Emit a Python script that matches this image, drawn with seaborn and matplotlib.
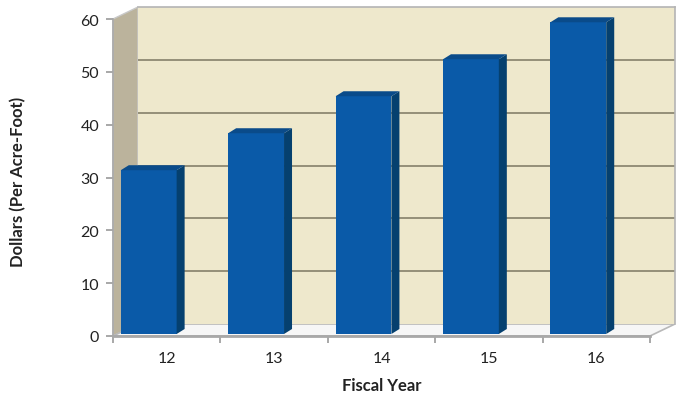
import matplotlib
matplotlib.use("Agg")
import matplotlib.pyplot as plt
from matplotlib.patches import Polygon
import pandas as pd
import seaborn as sns

# Water rate by fiscal year
fiscal_years = ["12", "13", "14", "15", "16"]
rates = [31, 38, 45, 52, 59]
y_ticks = [0, 10, 20, 30, 40, 50, 60]

df = pd.DataFrame({"year": fiscal_years, "rate": rates})

sns.set_style("white")
plt.rcParams["font.family"] = ["Lato", "DejaVu Sans"]

W, H = 685, 402
fig = plt.figure(figsize=(W / 100, H / 100), dpi=100)
fig.patch.set_facecolor("white")


def fx(px):
    return px / W


def fy(py):
    return 1 - py / H


plane_w = 537 / W
plane_h = 317 / H
ymax = 60

# Back wall of the 3-D box
ax_back = fig.add_axes([fx(138), fy(325), plane_w, plane_h])
ax_back.set_facecolor("#eee8cc")
ax_back.set_xlim(-0.5, 4.5)
ax_back.set_ylim(0, ymax)
ax_back.set_yticks(y_ticks[1:-1])
ax_back.set_xticks([])
ax_back.tick_params(left=False, labelleft=False)
ax_back.yaxis.grid(True, color="#8d8872", lw=1.3)
for side in ["left", "bottom"]:
    ax_back.spines[side].set_visible(False)
for side in ["top", "right"]:
    ax_back.spines[side].set_color("#b4b4b4")
    ax_back.spines[side].set_linewidth(1.2)

# Side wall and floor
side_wall = Polygon([(fx(113), fy(337)), (fx(113), fy(20)), (fx(138), fy(8)), (fx(138), fy(325))],
                    closed=True, transform=fig.transFigure, facecolor="#bbb39c",
                    edgecolor="#c8c8c8", lw=1.0, zorder=-1)
floor = Polygon([(fx(113), fy(337)), (fx(650), fy(337)), (fx(675), fy(325)), (fx(138), fy(325))],
                closed=True, transform=fig.transFigure, facecolor="#f6f6f6",
                edgecolor="#b8b8b8", lw=1.2, zorder=-1)
fig.add_artist(side_wall)
fig.add_artist(floor)

# Front plane: axes, ticks and labels
ax = fig.add_axes([fx(113), fy(337), plane_w, plane_h])
ax.set_facecolor("none")
ax.set_xlim(-0.5, 4.5)
ax.set_ylim(0, ymax)
ax.set_yticks(y_ticks)
ax.set_yticklabels([str(v) for v in y_ticks])
ax.set_xticks([i - 0.5 for i in range(len(fiscal_years) + 1)])
ax.set_xticklabels([])
ax.set_xticks(range(len(fiscal_years)), minor=True)
ax.set_xticklabels(fiscal_years, minor=True)
ax.tick_params(axis="y", direction="out", length=5, width=1.2, color="#9a9a9a",
               labelsize=11.5, labelcolor="#222222", pad=5, left=True)
ax.tick_params(axis="x", which="major", direction="out", length=5, width=1.2,
               color="#9a9a9a", bottom=True)
ax.tick_params(axis="x", which="minor", length=0, labelsize=11.5,
               labelcolor="#222222", pad=11)
for side in ["top", "right"]:
    ax.spines[side].set_visible(False)
ax.spines["left"].set_color("#a8a8a8")
ax.spines["left"].set_linewidth(1.2)
ax.spines["bottom"].set_color("#a8a8a8")
ax.spines["bottom"].set_linewidth(2.0)

# Bar plane
ax_bars = fig.add_axes([fx(95), fy(335), plane_w, plane_h])
sns.barplot(data=df, x="year", y="rate", ax=ax_bars, color="#0a5aa8",
            saturation=1, width=0.52, edgecolor="none")
ax_bars.set_xlim(-0.5, 4.5)
ax_bars.set_ylim(0, ymax)
ax_bars.axis("off")
ax_bars.patch.set_visible(False)

# Depth of each column (side and top faces)
ddx = 8 / 107.4
ddy = 5 * ymax / 317
for p in list(ax_bars.patches):
    x0, w, h = p.get_x(), p.get_width(), p.get_height()
    x1 = x0 + w
    side = Polygon([(x1, 0), (x1 + ddx, ddy), (x1 + ddx, h + ddy), (x1, h)],
                   closed=True, facecolor="#05406f", edgecolor="none", clip_on=False)
    top = Polygon([(x0, h), (x1, h), (x1 + ddx, h + ddy), (x0 + ddx, h + ddy)],
                  closed=True, facecolor="#0a4b8a", edgecolor="none", clip_on=False)
    ax_bars.add_patch(side)
    ax_bars.add_patch(top)

fig.text(fx(18), fy(182), "Dollars (Per Acre-Foot)", rotation=90, ha="center",
         va="center", fontsize=12, fontweight="bold", color="#222222")
fig.text(fx(382), fy(386), "Fiscal Year", ha="center", va="center",
         fontsize=12, fontweight="bold", color="#222222")

fig.savefig("out.png", dpi=100)
